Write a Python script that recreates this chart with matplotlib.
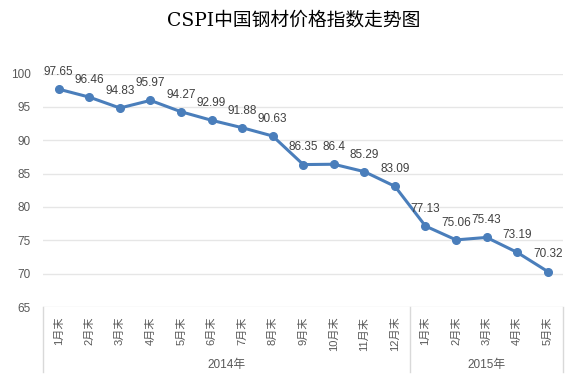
import matplotlib
matplotlib.use("Agg")
import matplotlib.pyplot as plt
import matplotlib.transforms as mtransforms

plt.rcParams['font.family'] = ['Liberation Sans', 'Noto Sans CJK SC', 'DejaVu Sans']

# 数据
months = ['1月末', '2月末', '3月末', '4月末', '5月末', '6月末', '7月末', '8月末',
          '9月末', '10月末', '11月末', '12月末',
          '1月末', '2月末', '3月末', '4月末', '5月末']
values = [97.65, 96.46, 94.83, 95.97, 94.27, 92.99, 91.88, 90.63,
          86.35, 86.4, 85.29, 83.09,
          77.13, 75.06, 75.43, 73.19, 70.32]
value_labels = ['97.65', '96.46', '94.83', '95.97', '94.27', '92.99', '91.88', '90.63',
                '86.35', '86.4', '85.29', '83.09',
                '77.13', '75.06', '75.43', '73.19', '70.32']
years = ['2014年', '2015年']
year_counts = [12, 5]
yticks = [65, 70, 75, 80, 85, 90, 95, 100]

fig = plt.figure(figsize=(5.87, 3.90), dpi=100)
ax = fig.add_axes([0.0741, 0.2128, 0.885, 0.5987])

x = list(range(len(values)))
ax.plot(x, values, color='#4a7ebb', linewidth=2.2, marker='o', markersize=5.5,
        zorder=3)
for xi, v, lab in zip(x, values, value_labels):
    ax.annotate(lab, (xi, v), xytext=(0, 8), textcoords='offset points',
                ha='center', va='bottom', fontsize=8.5, color='#404040')

ax.set_xlim(-0.5, len(values) - 0.5)
ax.set_ylim(65, 100)
ax.set_yticks(yticks)
ax.yaxis.grid(True, color='#e6e6e6', linewidth=1)
ax.set_axisbelow(True)
for s in ax.spines.values():
    s.set_visible(False)
ax.tick_params(axis='y', length=0, pad=9, labelsize=8.5, labelcolor='#595959')
ax.set_xticks(x)
ax.set_xticklabels(months, rotation=90, fontsize=8, color='#595959')
ax.tick_params(axis='x', length=0, pad=7)

# 年份分组
trans = mtransforms.blended_transform_factory(ax.transData, ax.transAxes)
start = -0.5
bounds = [start]
for yr, n in zip(years, year_counts):
    ax.text(start + n / 2, -0.25, yr, transform=trans, ha='center', va='center',
            fontsize=8.5, color='#595959')
    start += n
    bounds.append(start)
for b in bounds:
    ax.plot([b, b], [0, -0.28], transform=trans, color='#d9d9d9',
            linewidth=1, clip_on=False)

fig.text(0.5, 0.947, 'CSPI中国钢材价格指数走势图', ha='center', va='center',
         fontsize=13.5, family=['DejaVu Serif', 'Noto Sans CJK SC'],
         fontweight='light')

fig.savefig('out.png', dpi=100)
